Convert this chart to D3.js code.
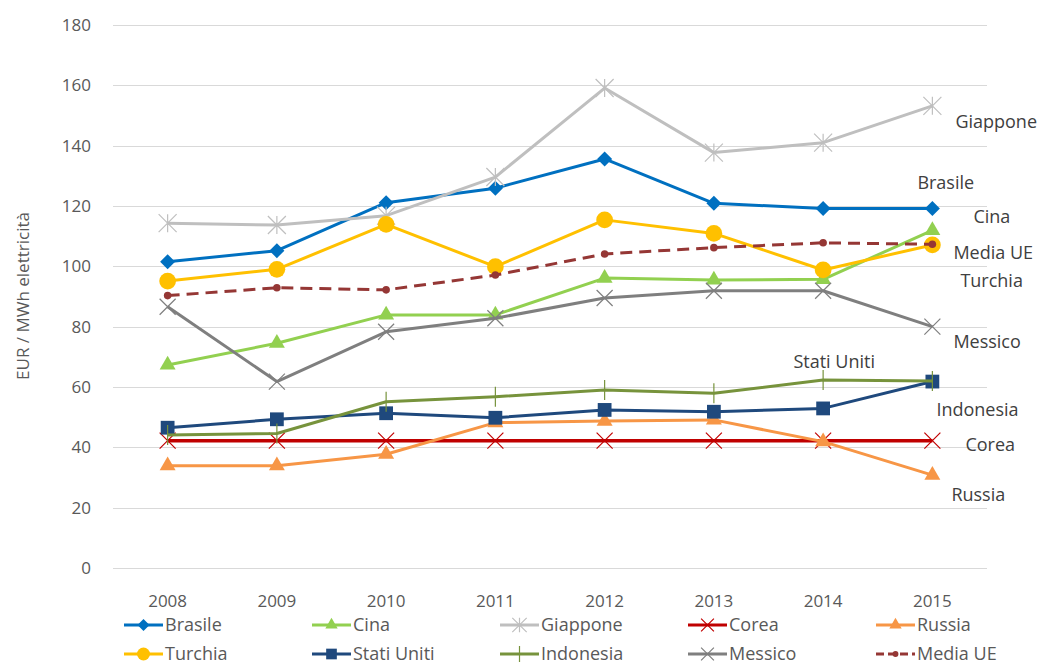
<!DOCTYPE html>
<html>
<head>
<meta charset="utf-8">
<script src="https://cdn.jsdelivr.net/npm/d3@7"></script>
<style>
  body { margin: 0; background: #fff; }
  text { font-family: "Open Sans", sans-serif; fill: #595959; }
</style>
</head>
<body>
<div class="chart"></div>
<script>
'use strict';

var YEARS = [2008, 2009, 2010, 2011, 2012, 2013, 2014, 2015];
var Y_TICKS = [0, 20, 40, 60, 80, 100, 120, 140, 160, 180];

var BRASILE     = [101.5, 105.2, 121.1, 125.9, 135.6, 120.9, 119.2, 119.2];
var CINA        = [67.3, 74.5, 83.9, 83.9, 96.1, 95.5, 95.7, 111.9];
var GIAPPONE    = [114.3, 113.7, 116.8, 129.6, 159.1, 137.7, 141.0, 153.2];
var COREA       = [42.2, 42.2, 42.2, 42.2, 42.2, 42.2, 42.2, 42.2];
var RUSSIA      = [33.9, 33.9, 37.7, 48.2, 48.7, 49.1, 41.9, 30.8];
var TURCHIA     = [95.1, 99.0, 113.9, 99.9, 115.4, 110.9, 98.8, 107.1];
var STATI_UNITI = [46.5, 49.3, 51.3, 49.8, 52.4, 51.8, 52.9, 61.8];
var INDONESIA   = [44.1, 44.6, 55.1, 56.8, 59.0, 57.9, 62.3, 62.0];
var MESSICO     = [86.6, 61.8, 78.3, 82.8, 89.5, 91.9, 91.9, 80.0];
var MEDIA_UE    = [90.3, 92.9, 92.2, 97.1, 104.1, 106.2, 107.8, 107.3];

var SERIES_NAMES = ['Brasile', 'Cina', 'Giappone', 'Corea', 'Russia',
  'Turchia', 'Stati Uniti', 'Indonesia', 'Messico', 'Media UE'];
var SERIES_VALUES = [BRASILE, CINA, GIAPPONE, COREA, RUSSIA,
  TURCHIA, STATI_UNITI, INDONESIA, MESSICO, MEDIA_UE];

// look of each series: color, marker, marker size
var STYLE = {
  'Brasile':     { color: '#0070C0', marker: 'diamond', size: 7.5 },
  'Cina':        { color: '#92D050', marker: 'triangle', size: 110 },
  'Giappone':    { color: '#BFBFBF', marker: 'asterisk', size: 9 },
  'Corea':       { color: '#C00000', marker: 'times', size: 8 },
  'Russia':      { color: '#F79646', marker: 'triangle', size: 110 },
  'Turchia':     { color: '#FFC000', marker: 'circle', size: 220 },
  'Stati Uniti': { color: '#1F497D', marker: 'square', size: 190 },
  'Indonesia':   { color: '#77933C', marker: 'vline', size: 10 },
  'Messico':     { color: '#7F7F7F', marker: 'times', size: 8 },
  'Media UE':    { color: '#953735', marker: 'circle', size: 45, dash: '12,7' }
};

// end label offsets from the last point of each series
var LABEL_OFFSET = {
  'Giappone':    [23, 22],
  'Brasile':     [-15, -19],
  'Cina':        [41, -7],
  'Media UE':    [21, 15],
  'Turchia':     [28, 42],
  'Messico':     [21, 21],
  'Stati Uniti': [-139, -14],
  'Indonesia':   [4, 35],
  'Corea':       [33, 10],
  'Russia':      [19, 26]
};

var WIDTH = 1046, HEIGHT = 667;
var svg = d3.select('.chart').append('svg')
  .attr('width', WIDTH)
  .attr('height', HEIGHT);

var x = d3.scalePoint().domain(YEARS).range([113, 987]).padding(0.5);
var y = d3.scaleLinear().domain([0, 180]).range([568, 25]);

// gridlines
svg.append('g')
  .selectAll('line')
  .data(Y_TICKS)
  .enter()
  .append('line')
  .attr('x1', 113)
  .attr('x2', 987)
  .attr('y1', function(d) { return Math.round(y(d)) + 0.5; })
  .attr('y2', function(d) { return Math.round(y(d)) + 0.5; })
  .style('stroke', '#D9D9D9')
  .style('stroke-width', 1);

// y tick labels
svg.append('g')
  .selectAll('text')
  .data(Y_TICKS)
  .enter()
  .append('text')
  .attr('x', 91)
  .attr('y', function(d) { return y(d); })
  .attr('dy', '0.35em')
  .attr('text-anchor', 'end')
  .style('font-size', '17px')
  .text(function(d) { return d; });

// x tick labels
svg.append('g')
  .selectAll('text')
  .data(YEARS)
  .enter()
  .append('text')
  .attr('x', function(d) { return x(d); })
  .attr('y', 607)
  .attr('text-anchor', 'middle')
  .style('font-size', '17px')
  .text(function(d) { return d; });

// axis title
svg.append('text')
  .attr('transform', 'translate(29, 296) rotate(-90)')
  .attr('text-anchor', 'middle')
  .style('font-size', '17px')
  .text('EUR / MWh elettricità');

function markerPath(style) {
  var s = style.size;
  switch (style.marker) {
    case 'diamond': return 'M0,' + (-s) + 'L' + s + ',0L0,' + s + 'L' + (-s) + ',0Z';
    case 'triangle': return d3.symbol().type(d3.symbolTriangle).size(s)();
    case 'circle': return d3.symbol().type(d3.symbolCircle).size(s)();
    case 'square': return d3.symbol().type(d3.symbolSquare).size(s)();
    case 'times': return 'M' + (-s) + ',' + (-s) + 'L' + s + ',' + s + 'M' + (-s) + ',' + s + 'L' + s + ',' + (-s);
    case 'asterisk': return 'M' + (-s) + ',' + (-s) + 'L' + s + ',' + s + 'M' + (-s) + ',' + s + 'L' + s + ',' + (-s) + 'M0,' + (-s) + 'L0,' + s;
    case 'vline': return 'M0,' + (-s) + 'L0,' + s;
  }
}

function isStrokeMarker(style) {
  return style.marker === 'times' || style.marker === 'asterisk' || style.marker === 'vline';
}

var line = d3.line()
  .x(function(d) { return x(d.year); })
  .y(function(d) { return y(d.value); });

var series = SERIES_NAMES.map(function(name, i) {
  return {
    name: name,
    style: STYLE[name],
    points: YEARS.map(function(year, j) { return { year: year, value: SERIES_VALUES[i][j] }; })
  };
});

var seriesG = svg.append('g')
  .selectAll('g.series')
  .data(series)
  .enter()
  .append('g')
  .classed('series', true);

seriesG.append('path')
  .attr('d', function(d) { return line(d.points); })
  .style('fill', 'none')
  .style('stroke', function(d) { return d.style.color; })
  .style('stroke-width', function(d) { return d.name === 'Corea' ? 3.5 : 3; })
  .style('stroke-dasharray', function(d) { return d.style.dash || null; })
  .style('stroke-linejoin', 'round');

seriesG.each(function(d) {
  d3.select(this)
    .selectAll('path.marker')
    .data(d.points)
    .enter()
    .append('path')
    .classed('marker', true)
    .attr('transform', function(p) { return 'translate(' + x(p.year) + ',' + y(p.value) + ')'; })
    .attr('d', markerPath(d.style))
    .style('fill', isStrokeMarker(d.style) ? 'none' : d.style.color)
    .style('stroke', d.style.color)
    .style('stroke-width', isStrokeMarker(d.style) ? 1.2 : 0);
});

// end labels
svg.append('g')
  .selectAll('text')
  .data(series)
  .enter()
  .append('text')
  .attr('x', function(d) { return x(2015) + LABEL_OFFSET[d.name][0]; })
  .attr('y', function(d) { return y(d.points[d.points.length - 1].value) + LABEL_OFFSET[d.name][1]; })
  .style('font-size', '18px')
  .style('fill', '#404040')
  .text(function(d) { return d.name; });

// legend
var legend = svg.append('g')
  .selectAll('g')
  .data(series)
  .enter()
  .append('g')
  .attr('transform', function(d, i) {
    return 'translate(' + (124 + (i % 5) * 188) + ',' + (625 + Math.floor(i / 5) * 29) + ')';
  });

legend.append('line')
  .attr('x1', 0)
  .attr('x2', 39)
  .style('stroke', function(d) { return d.style.color; })
  .style('stroke-width', 3)
  .style('stroke-dasharray', function(d) { return d.style.dash ? '8,4' : null; });

legend.append('path')
  .attr('transform', 'translate(19.5,0)')
  .attr('d', function(d) {
    var st = Object.assign({}, d.style);
    if (isStrokeMarker(st) || st.marker === 'diamond') st.size = st.size * 0.8;
    else st.size = st.size * 0.6;
    return markerPath(st);
  })
  .style('fill', function(d) { return isStrokeMarker(d.style) ? 'none' : d.style.color; })
  .style('stroke', function(d) { return d.style.color; })
  .style('stroke-width', function(d) { return isStrokeMarker(d.style) ? 1.2 : 0; });

legend.append('text')
  .attr('x', 41)
  .attr('y', 0)
  .attr('dy', '0.36em')
  .style('font-size', '18px')
  .style('fill', '#595959')
  .text(function(d) { return d.name; });
</script>
</body>
</html>
